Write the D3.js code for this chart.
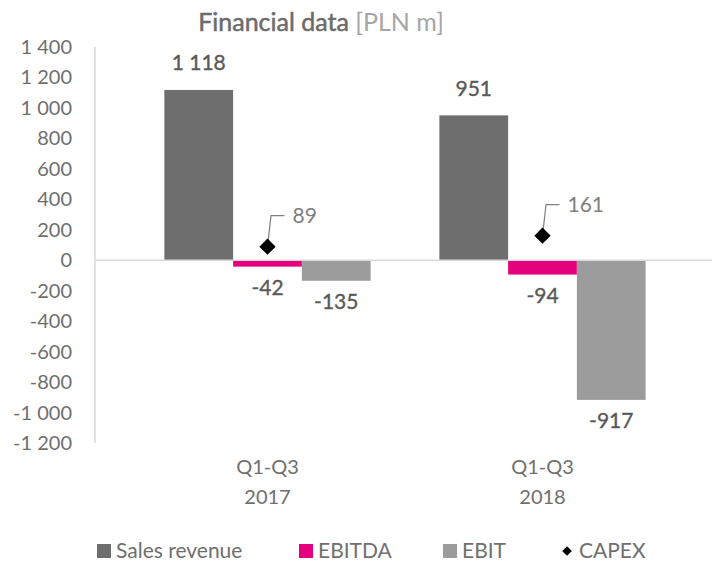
<!DOCTYPE html>
<html>
<head>
<meta charset="utf-8">
<script src="https://cdn.jsdelivr.net/npm/d3@7"></script>
<style>
  body { margin: 0; background: #fff; }
  text { font-family: Lato, sans-serif; }
</style>
</head>
<body>
<svg id="chart" width="712" height="562"></svg>
<script>
// data
const categories = ['Q1-Q3 2017', 'Q1-Q3 2018'];
const seriesNames = ['Sales revenue', 'EBITDA', 'EBIT'];
const salesRevenue = [1118, 951];
const ebitda = [-42, -94];
const ebit = [-135, -917];
const capex = [89, 161];
const yTicks = [-1200, -1000, -800, -600, -400, -200, 0, 200, 400, 600, 800, 1000, 1200, 1400];

const colors = { 'Sales revenue': '#6e6e6e', 'EBITDA': '#e5007d', 'EBIT': '#9c9c9c' };
const seriesValues = { 'Sales revenue': salesRevenue, 'EBITDA': ebitda, 'EBIT': ebit };

const fmt = d3.formatLocale({ decimal: ',', thousands: ' ', grouping: [3], currency: ['', ''], minus: '-' }).format(',d');

const svg = d3.select('#chart');

const y = d3.scaleLinear().domain([-1200, 1400]).range([443, 47]);
const x0 = d3.scaleBand().domain(categories).range([130, 680]);
const x1 = d3.scaleBand().domain(seriesNames).range([0, x0.bandwidth()]).paddingOuter(0.5);

// title
const title = svg.append('text')
  .attr('x', 321).attr('y', 31)
  .attr('text-anchor', 'middle')
  .style('font-size', '25px');
title.append('tspan').attr('fill', '#6b6b6b')
  .attr('stroke', '#6b6b6b').attr('stroke-width', 0.5)
  .text('Financial data ');
title.append('tspan').attr('fill', '#a6a6a6').text('[PLN m]');

// y axis labels
svg.append('g')
  .selectAll('text')
  .data(yTicks)
  .enter().append('text')
  .attr('x', 72)
  .attr('y', d => y(d))
  .attr('dy', '0.35em')
  .attr('text-anchor', 'end')
  .attr('fill', '#6f6f6f')
  .style('font-size', '20px')
  .text(d => fmt(d));

// axis line
svg.append('line')
  .attr('x1', 95).attr('x2', 95)
  .attr('y1', y(1400)).attr('y2', y(-1200))
  .attr('stroke', '#d9d9d9').attr('stroke-width', 1.5);

// bars
const groups = svg.append('g')
  .selectAll('g')
  .data(categories)
  .enter().append('g')
  .attr('transform', d => `translate(${x0(d)},0)`);

const bars = groups.selectAll('g')
  .data((c, i) => seriesNames.map(s => ({ series: s, value: seriesValues[s][i] })))
  .enter().append('g');

bars.append('rect')
  .attr('x', d => x1(d.series))
  .attr('width', x1.bandwidth())
  .attr('y', d => y(Math.max(0, d.value)))
  .attr('height', d => Math.abs(y(d.value) - y(0)))
  .attr('fill', d => colors[d.series]);

bars.append('text')
  .attr('x', d => x1(d.series) + x1.bandwidth() / 2)
  .attr('y', d => d.value >= 0 ? y(d.value) - 27 : y(d.value) + 21)
  .attr('dy', '0.35em')
  .attr('text-anchor', 'middle')
  .attr('fill', '#595959')
  .attr('stroke', '#595959')
  .attr('stroke-width', 0.35)
  .style('font-size', '21px')
  .text(d => fmt(d.value));

// zero line
svg.append('line')
  .attr('x1', 95).attr('x2', 712)
  .attr('y1', y(0)).attr('y2', y(0))
  .attr('stroke', '#d9d9d9').attr('stroke-width', 1.5);

// capex markers with leader lines
const capexG = svg.append('g')
  .selectAll('g')
  .data(categories.map((c, i) => ({ cat: c, value: capex[i] })))
  .enter().append('g')
  .attr('transform', d => `translate(${x0(d.cat) + x0.bandwidth() / 2},${y(d.value)})`);

capexG.append('path')
  .attr('d', 'M0,0 L3.5,-31 L17,-31')
  .attr('fill', 'none')
  .attr('stroke', '#7f7f7f')
  .attr('stroke-width', 1.2);

capexG.append('path')
  .attr('d', d3.symbol(d3.symbolDiamond2, 170))
  .attr('fill', '#000');

capexG.append('text')
  .attr('x', 25).attr('y', -31)
  .attr('dy', '0.35em')
  .attr('fill', '#7f7f7f')
  .style('font-size', '21px')
  .text(d => fmt(d.value));

// category labels
svg.append('g')
  .selectAll('text')
  .data(categories)
  .enter().append('text')
  .attr('x', d => x0(d) + x0.bandwidth() / 2)
  .attr('y', 474)
  .attr('text-anchor', 'middle')
  .attr('fill', '#6f6f6f')
  .style('font-size', '20px')
  .each(function (d) {
    const parts = d.split(' ');
    d3.select(this).append('tspan').attr('x', x0(d) + x0.bandwidth() / 2).text(parts[0]);
    d3.select(this).append('tspan').attr('x', x0(d) + x0.bandwidth() / 2).attr('dy', 30).text(parts[1]);
  });

// legend
const legendItems = [
  { name: 'Sales revenue', x: 97, type: 'rect', color: colors['Sales revenue'] },
  { name: 'EBITDA', x: 299, type: 'rect', color: colors['EBITDA'] },
  { name: 'EBIT', x: 443, type: 'rect', color: colors['EBIT'] },
  { name: 'CAPEX', x: 560, type: 'diamond', color: '#000' }
];
const legend = svg.append('g')
  .selectAll('g')
  .data(legendItems)
  .enter().append('g')
  .attr('transform', d => `translate(${d.x},551)`);

legend.filter(d => d.type === 'rect').append('rect')
  .attr('x', 0).attr('y', -7).attr('width', 14).attr('height', 14)
  .attr('fill', d => d.color);

legend.filter(d => d.type === 'diamond').append('path')
  .attr('transform', 'translate(7,0)')
  .attr('d', d3.symbol(d3.symbolDiamond2, 60))
  .attr('fill', d => d.color);

legend.append('text')
  .attr('x', 19)
  .attr('dy', '0.35em')
  .attr('fill', '#6f6f6f')
  .style('font-size', '21px')
  .text(d => d.name);
</script>
</body>
</html>
